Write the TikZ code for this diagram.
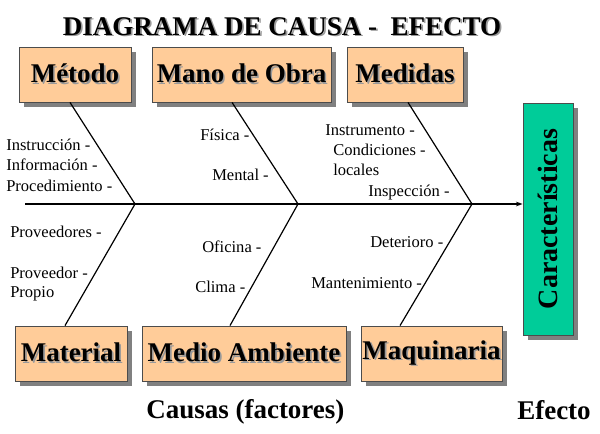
\documentclass[tikz,border=0pt]{standalone}
\usepackage{fontspec}
\setmainfont{Liberation Serif}
\usetikzlibrary{shadows,arrows.meta}
\definecolor{peach}{HTML}{FFCC99}
\definecolor{efgreen}{HTML}{00CC99}
\definecolor{shgray}{HTML}{999999}
\newcommand\shtxt[1]{\leavevmode\rlap{\kern1.3pt\raisebox{-1.3pt}{\color{shgray}#1}}#1}
\tikzset{
  causebox/.style={draw=black!70, line width=0.6pt, fill=peach, inner sep=0pt,
    minimum height=41.25pt, font=\fontsize{20.25}{24}\selectfont\bfseries,
    drop shadow={shadow xshift=4pt, shadow yshift=-4pt, fill=black!50, opacity=1}},
  effbox/.style={draw=black!70, line width=0.6pt, fill=efgreen, inner sep=0pt,
    drop shadow={shadow xshift=4pt, shadow yshift=-4pt, fill=black!50, opacity=1}},
  bone/.style={line width=0.9pt, black},
  lbl/.style={anchor=base west, inner sep=0pt, font=\fontsize{12.4}{14}\selectfont},
  bigtxt/.style={inner sep=0pt, font=\fontsize{20.25}{24}\selectfont\bfseries},
}
\begin{document}
\begin{tikzpicture}[x=0.75pt, y=-0.75pt]
\useasboundingbox (0,0) rectangle (600,433);
% title
\node[bigtxt, anchor=base] (title) at (282,35) {\shtxt{DIAGRAMA DE CAUSA -\ \ EFECTO}};
% cause boxes
\node[causebox, minimum width=84pt] (metodo) at (75,74.5) {\shtxt{Método}};
\node[causebox, minimum width=134.25pt] (mano) at (241.5,74.5) {\shtxt{Mano de Obra}};
\node[causebox, minimum width=87pt] (medidas) at (405,74.5) {\shtxt{Medidas}};
\node[causebox, minimum width=84pt] (material) at (71,353.5) {\shtxt{Material}};
\node[causebox, minimum width=153pt] (medio) at (244,353.5) {\shtxt{Medio Ambiente}};
\node[causebox, minimum width=105.75pt] (maquinaria) at (431.5,353.5) {\shtxt{Maquinaria}};
% effect box
\node[effbox, minimum width=37.5pt, minimum height=174pt] (carac) at (548,219) {};
\node[bigtxt, rotate=90, font=\fontsize{21}{24}\selectfont\bfseries] (caractxt) at (carac.center) {Características};
% spine
\coordinate (tail) at (25,204);
\coordinate (j1) at (135,204);
\coordinate (j2) at (298,204);
\coordinate (j3) at (472,204);
\draw[bone, -{Stealth[length=5pt,width=3.5pt]}] (tail) -- (tail -| carac.west);
% bones
\draw[bone] ([xshift=-3.75pt]metodo.south) -- (j1);
\draw[bone] ([xshift=-7.1pt]mano.south) -- (j2);
\draw[bone] ([xshift=2.25pt]medidas.south) -- (j3);
\draw[bone] ([xshift=-4.5pt]material.north) -- (j1);
\draw[bone] ([xshift=-10.5pt]medio.north) -- (j2);
\draw[bone] ([xshift=-23.6pt]maquinaria.north) -- (j3);
% labels
\node[lbl] (l1) at (6,150) {Instrucción -};
\node[lbl] (l2) at (6,170) {Información -};
\node[lbl] (l3) at (6,191) {Procedimiento -};
\node[lbl] (l4) at (10,237) {Proveedores -};
\node[lbl] (l5) at (10,278) {Proveedor -};
\node[lbl] (l6) at (10,297) {Propio};
\node[lbl] (l7) at (200,140) {Física -};
\node[lbl] (l8) at (212,180) {Mental -};
\node[lbl] (l9) at (202,252) {Oficina -};
\node[lbl] (l10) at (195,292) {Clima -};
\node[lbl] (l11) at (325,135) {Instrumento -};
\node[lbl] (l12) at (333,155) {Condiciones -};
\node[lbl] (l13) at (333,175) {locales};
\node[lbl] (l14) at (368,196) {Inspección -};
\node[lbl] (l15) at (370,247) {Deterioro -};
\node[lbl] (l16) at (311,288) {Mantenimiento -};
% footer
\node[bigtxt, anchor=base west] (causas) at (146,418) {Causas (factores)};
\node[bigtxt, anchor=base west] (efecto) at (517,419) {Efecto};
\end{tikzpicture}
\end{document}
